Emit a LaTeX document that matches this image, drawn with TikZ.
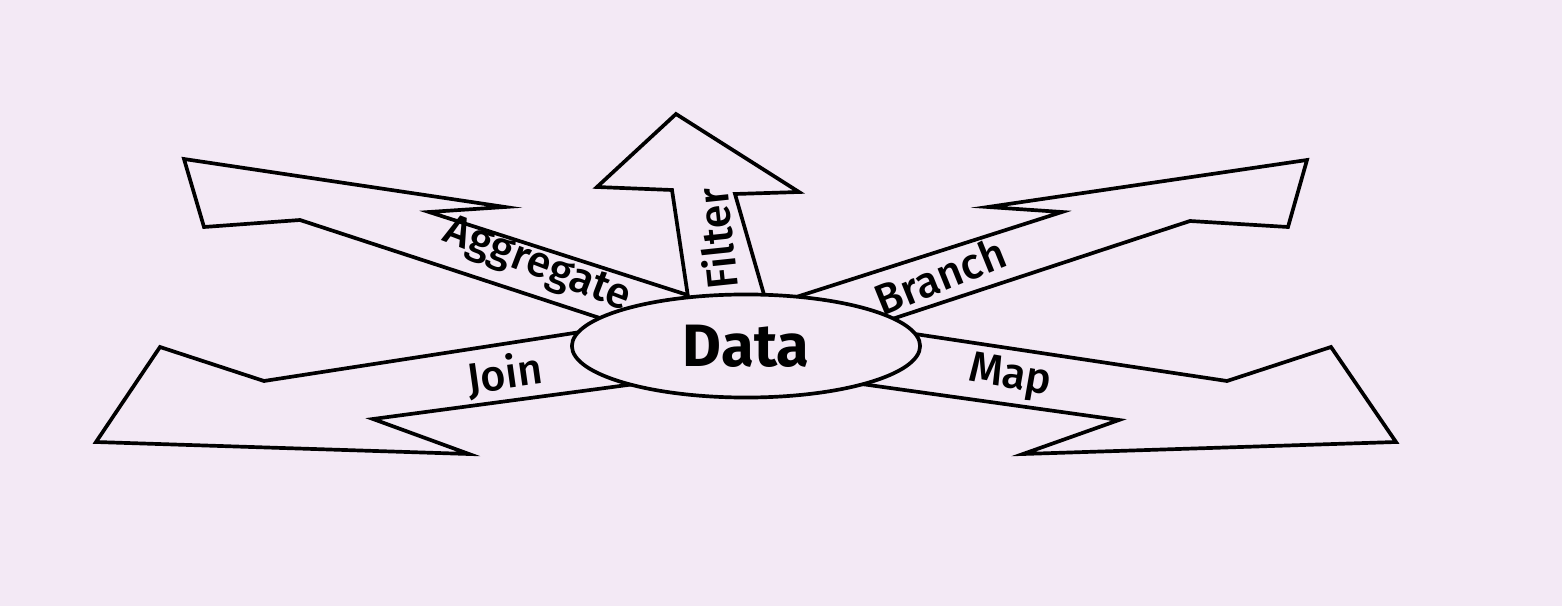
\documentclass[tikz,border=0pt]{standalone}
\usepackage{fontspec}
\setmainfont{Fira Sans}
\newfontfamily\medfont{Fira Sans Medium}
\usetikzlibrary{shapes.geometric}
\definecolor{lavender}{RGB}{243,233,245}

\begin{document}
\begin{tikzpicture}[x=0.01cm,y=-0.01cm,
  flow/.style={draw=black,fill=lavender,line width=1.05pt},
  lbl/.style={font=\medfont\fontsize{12.3}{14}\selectfont,inner sep=0pt},
  hubnode/.style={ellipse,draw=black,fill=lavender,line width=1.05pt,minimum width=3.48cm,
                  minimum height=1.03cm,inner sep=0pt,font=\bfseries\fontsize{17}{20}\selectfont}]
\fill[lavender] (0,0) rectangle (1562,606);
\useasboundingbox (0,0) rectangle (1562,606);
\coordinate (hub) at (746,346);
\draw[flow] (hub) -- (700,299) -- (429,212) -- (505,207) -- (184,159) -- (204,227) -- (300,220) -- (612,322) -- cycle;
\draw[flow] (hub) -- (690,310) -- (672,190) -- (597,187) -- (676,114) -- (799,192) -- (735,194) -- (767,305) -- cycle;
\draw[flow] (hub) -- (790,299) -- (1062,212) -- (988,207) -- (1307,160) -- (1288,227) -- (1190,221) -- (880,323) -- cycle;
\draw[flow] (hub) -- (600,329) -- (264,381) -- (160,347) -- (96,442) -- (469,454) -- (373,419) -- (650,382) -- cycle;
\draw[flow] (hub) -- (895,331) -- (1227,381) -- (1331,347) -- (1396,442) -- (1023,454) -- (1119,420) -- (840,381) -- cycle;
\node[lbl,rotate=-21] (agg) at (537,266) {Aggregate};
\node[lbl,rotate=96] (filt) at (716,239) {Filter};
\node[lbl,rotate=22] (bra) at (940,276) {Branch};
\node[lbl,rotate=8] (join) at (505,375) {Join};
\node[lbl,rotate=-10] (map) at (1010,378) {Map};
\node[hubnode] (data) at (hub) {Data};
\end{tikzpicture}
\end{document}
